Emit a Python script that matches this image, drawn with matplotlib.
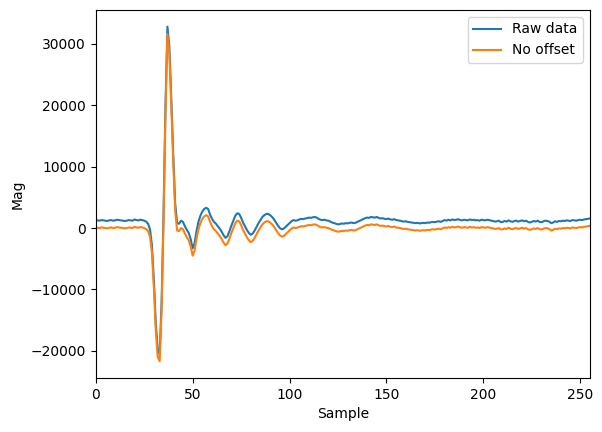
import matplotlib
matplotlib.use("Agg")
import matplotlib.pyplot as plt
import numpy as np

raw_data = [
    1150, 1250, 1200, 1300, 1250, 1200, 1150, 1250, 1300, 1200,
    1250, 1350, 1300, 1250, 1200, 1150, 1200, 1300, 1250, 1200,
    1400, 1300, 1250, 1350, 1300, 1200, 1050, 700, -200, -2800,
    -8500, -15500, -19800, -20500, -12000, 2500, 20000, 32800, 29500, 21000,
    12000, 4000, 800, 700, 1200, 1000, 300, -300, -800, -1800,
    -3300, -2500, -500, 1000, 2000, 2700, 3100, 3300, 3100, 2200,
    1500, 1000, 700, 300, -100, -600, -1200, -1600, -1300, -500,
    400, 1200, 2000, 2400, 2300, 1700, 900, 300, -300, -800,
    -1100, -900, -400, 200, 800, 1300, 1800, 2100, 2300, 2300,
    2100, 1800, 1400, 900, 400, 0, -200, -100, 200, 500,
    800, 1100, 1300, 1200, 1250, 1400, 1500, 1450, 1550, 1600,
    1700, 1650, 1750, 1800, 1700, 1500, 1350, 1300, 1350, 1250,
    1200, 1050, 900, 800, 700, 600, 650, 750, 700, 800,
    750, 850, 900, 800, 850, 1000, 1150, 1300, 1450, 1600,
    1700, 1650, 1800, 1750, 1700, 1800, 1650, 1550, 1600, 1500,
    1450, 1550, 1400, 1350, 1450, 1300, 1250, 1200, 1100, 1050,
    1100, 1000, 950, 900, 850, 800, 850, 750, 800, 850,
    800, 900, 850, 950, 1000, 950, 1050, 1100, 1000, 1150,
    1300, 1200, 1350, 1250, 1400, 1300, 1350, 1450, 1300, 1250,
    1350, 1300, 1250, 1400, 1300, 1350, 1250, 1300, 1200, 1350,
    1300, 1250, 1350, 1300, 1200, 1150, 1050, 1100, 1200, 950,
    1000, 1150, 1050, 1250, 1100, 1000, 1150, 1200, 1050, 1150,
    1250, 1100, 1200, 1000, 900, 1000, 1150, 1050, 1200, 1000,
    950, 1100, 1200, 1150, 1050, 800, 900, 1100, 1000, 1150,
    1100, 1200, 1150, 1250, 1200, 1150, 1300, 1250, 1200, 1300,
    1350, 1300, 1400, 1450, 1500, 1550,
]
offset = 1200

raw = np.array(raw_data, dtype=float)
no_offset = raw - offset
samples = np.arange(len(raw))

fig = plt.figure(figsize=(6.02, 4.32), dpi=100)
ax = fig.add_subplot(111)
fig.subplots_adjust(left=0.159, right=0.980, top=0.977, bottom=0.125)
ax.plot(samples, raw, label="Raw data")
ax.plot(samples, no_offset, label="No offset")
ax.set_xlim(0, len(raw) - 1)
ax.set_xlabel("Sample")
ax.set_ylabel("Mag")
ax.legend(loc="upper right")
fig.savefig("out.png", dpi=100)
